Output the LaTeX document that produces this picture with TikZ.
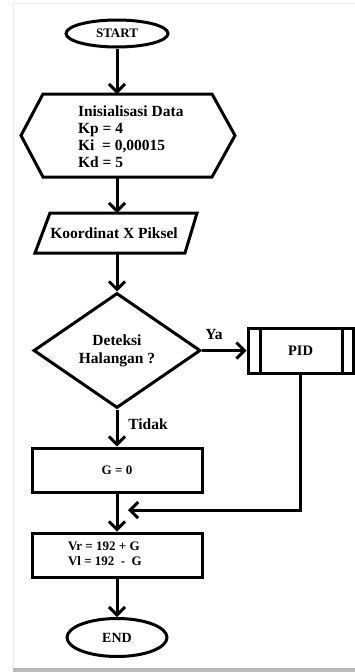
\documentclass[tikz,border=0pt]{standalone}
\usepackage{fontspec}
\setmainfont{Liberation Serif}
\usetikzlibrary{arrows.meta,shapes.geometric,calc}
\begin{document}
\begin{tikzpicture}[x=1pt,y=-1pt,line width=3pt,
  bigtxt/.style={font=\fontsize{15.5}{17}\selectfont\bfseries},
  midtxt/.style={font=\fontsize{14.5}{18}\selectfont\bfseries},
  smalltxt/.style={font=\fontsize{13}{15}\selectfont\bfseries},
  term/.style={draw,ellipse,inner sep=0pt},
  proc/.style={draw,rectangle,inner sep=0pt,minimum width=170pt,minimum height=44pt},
  dec/.style={draw,diamond,inner sep=0pt,minimum width=167pt,minimum height=115pt},
  ghost/.style={inner sep=0pt,outer sep=0pt},
  lbl/.style={inner sep=0pt,bigtxt},
  flow/.style={-{Straight Barb[length=8pt,width=16pt]}}]
\useasboundingbox (0,0) rectangle (355,672);
% frame
\fill[gray!55] (13,667.5) rectangle (355,672);
\draw[gray!15,line width=0.8pt] (13,667) -- (13,3) -- (355,3);
% nodes
\node[term,minimum width=102pt,minimum height=27pt,smalltxt] (start) at (117,33.5) {START};
\node[ghost,minimum width=214pt,minimum height=83pt] (hex) at (128,135.5) {};
\draw (hex.west) -- ([xshift=22pt]hex.north west) -- ([xshift=-23pt]hex.north east)
  -- (hex.east) -- ([xshift=-23pt]hex.south east) -- ([xshift=22pt]hex.south west) -- cycle;
\node[ghost,align=left,anchor=west,bigtxt] (hextxt) at (78,136.3)
  {Inisialisasi Data\\Kp = 4\\Ki\ \ = 0,00015\\Kd = 5};
\node[ghost,minimum width=150pt,minimum height=40pt,bigtxt] (par) at (114,233) {Koordinat X Piksel};
\draw ($(par.center)+(-64,-20)$) -- ($(par.center)+(83,-20)$) -- ($(par.center)+(71,20)$)
  -- ($(par.center)+(-79,20)$) -- cycle;
\node[dec,bigtxt,align=center] (dec) at (117,350.5) {Deteksi\\[1pt]Halangan ?};
\node[draw,rectangle,inner sep=0pt,minimum width=105pt,minimum height=45pt,midtxt] (pid) at (300.5,350.5) {PID};
\draw ([xshift=14pt]pid.north west) -- ([xshift=14pt]pid.south west);
\draw ([xshift=-12pt]pid.north east) -- ([xshift=-12pt]pid.south east);
\node[proc,smalltxt] (g0) at (117,470) {G = 0};
\node[proc] (vr) at (117,555) {};
\node[ghost,align=left,anchor=west,smalltxt] (vrtxt) at (68,554)
  {Vr = 192 + G\\Vl = 192\ \ -\ \ G};
\node[term,minimum width=100pt,minimum height=38pt,font=\fontsize{14}{16}\selectfont\bfseries] (end) at (117,637.5) {END};
\coordinate (join) at (128,510);
% connectors
\draw[flow] (start) -- (start |- hex.north);
\draw[flow] (start |- hex.south) -- (start |- par.north);
\draw[flow] (start |- par.south) -- (dec);
\draw[flow] (dec) -- node[lbl,above=9pt,pos=0.27] (ya) {Ya} (pid);
\draw[flow] (dec) -- (g0);
\node[lbl] (tidak) at (148,424.5) {Tidak};
\draw[flow] (pid.south) |- (join);
\draw[flow] (g0) -- (vr);
\draw[flow] (vr) -- (end);
\end{tikzpicture}
\end{document}
